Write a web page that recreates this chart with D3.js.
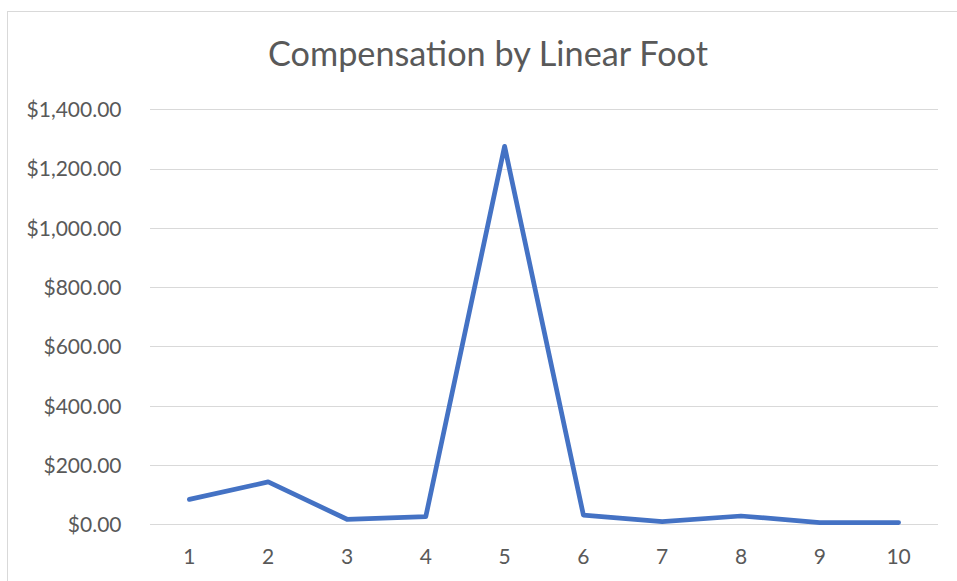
<!DOCTYPE html>
<html>
<head>
<meta charset="utf-8">
<script src="https://cdn.jsdelivr.net/npm/d3@7"></script>
<style>
  html, body { margin: 0; padding: 0; background: #fff; }
  svg { display: block; }
</style>
</head>
<body>
<svg id="chart" width="957" height="581"></svg>
<script>
const title = "Compensation by Linear Foot";
const categories = ["1", "2", "3", "4", "5", "6", "7", "8", "9", "10"];
const values = [84, 143, 17, 26, 1275, 31, 9, 28, 6, 6];
const yTicks = [0, 200, 400, 600, 800, 1000, 1200, 1400];

const svg = d3.select("#chart");
const W = 957, H = 581;
const fontFamily = "Lato, 'Open Sans', sans-serif";
const textColor = "#595959";

// chart area border (cropped at right/bottom)
svg.append("rect")
  .attr("x", 7.5).attr("y", 11.5)
  .attr("width", W + 20).attr("height", H + 20)
  .attr("fill", "#fff")
  .attr("stroke", "#D9D9D9").attr("stroke-width", 1);

const plot = { left: 150, right: 938, top: 109.3, bottom: 524.3 };

const x = d3.scaleBand().domain(categories).range([plot.left, plot.right]);
const y = d3.scaleLinear().domain([0, 1400]).range([plot.bottom, plot.top]);

// gridlines
svg.append("g")
  .selectAll("line")
  .data(yTicks)
  .join("line")
  .attr("x1", plot.left).attr("x2", plot.right)
  .attr("y1", d => Math.round(y(d)) + 0.5)
  .attr("y2", d => Math.round(y(d)) + 0.5)
  .attr("stroke", "#D9D9D9").attr("stroke-width", 1);

// y axis labels
const fmt = d3.format("$,.2f");
const yAxis = d3.axisLeft(y).tickValues(yTicks).tickFormat(fmt).tickSize(0).tickPadding(0);
const yg = svg.append("g").attr("transform", `translate(${121.5},0)`).call(yAxis);
yg.select(".domain").remove();
yg.selectAll("text")
  .attr("fill", textColor)
  .style("font-family", fontFamily)
  .style("font-size", "21px")
  .attr("dy", "0.35em");

// x axis labels
const xAxis = d3.axisBottom(x).tickSize(0).tickPadding(0);
const xg = svg.append("g").attr("transform", `translate(0,${548})`).call(xAxis);
xg.select(".domain").remove();
xg.selectAll("text")
  .attr("fill", textColor)
  .style("font-family", fontFamily)
  .style("font-size", "21px")
  .attr("dy", "0.35em")
  .attr("y", 9);

// line
const line = d3.line()
  .x((d, i) => x(categories[i]) + x.bandwidth() / 2)
  .y(d => y(d));

svg.append("path")
  .datum(values)
  .attr("d", line)
  .attr("fill", "none")
  .attr("stroke", "#4472C4")
  .attr("stroke-width", 4.75)
  .attr("stroke-linejoin", "round")
  .attr("stroke-linecap", "round");

// title
const t = svg.append("text")
  .attr("x", 488).attr("y", 57)
  .attr("text-anchor", "middle")
  .attr("dominant-baseline", "middle")
  .attr("fill", textColor)
  .style("font-family", fontFamily)
  .style("font-size", "30px")
  .text(title);
const tw = t.node().getComputedTextLength();
t.style("font-size", (30 * 440 / tw).toFixed(2) + "px");
</script>
</body>
</html>
